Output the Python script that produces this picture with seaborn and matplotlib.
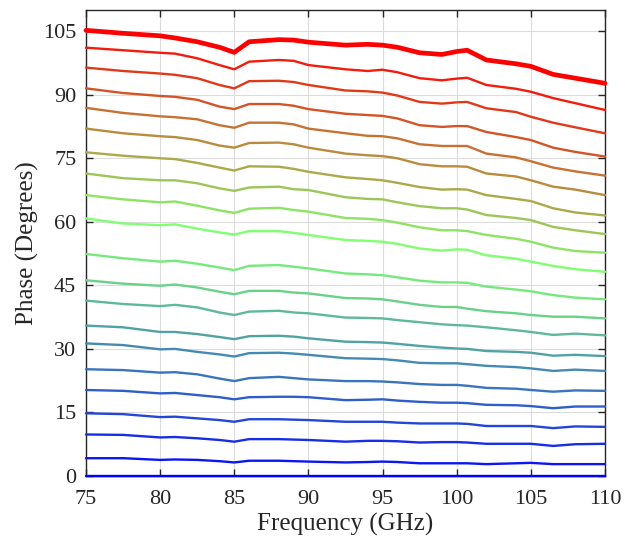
import numpy as np
import pandas as pd
import matplotlib
matplotlib.use('Agg')
import matplotlib.pyplot as plt
from matplotlib.colors import LinearSegmentedColormap
import seaborn as sns

# frequency points (GHz)
freq = [75, 77.5, 80, 81, 82.5, 84, 85, 86, 88, 89, 90, 92.5, 94, 95, 96,
        97.5, 99, 100, 100.7, 102, 104, 105, 106.5, 108, 110]

# phase states, top curve first (degrees)
s01 = [105.2, 104.5, 103.9, 103.4, 102.5, 101.2, 100.0, 102.5, 103.0, 102.9, 102.4, 101.7, 101.9,
       101.7, 101.2, 99.9, 99.5, 100.2, 100.5, 98.2, 97.3, 96.7, 94.8, 93.9, 92.7]
s02 = [101.1, 100.5, 99.9, 99.7, 98.6, 97.0, 96.0, 97.8, 98.2, 98.0, 97.0, 96.0, 95.6,
       95.9, 95.3, 93.9, 93.4, 93.8, 94.0, 92.3, 91.4, 90.7, 89.2, 88.0, 86.4]
s03 = [96.4, 95.6, 95.0, 94.7, 93.9, 92.3, 91.5, 93.2, 93.3, 93.0, 92.3, 91.0, 90.8,
       90.5, 89.8, 88.3, 87.9, 88.2, 88.3, 86.8, 85.9, 84.8, 83.4, 82.3, 80.9]
s04 = [91.5, 90.4, 89.7, 89.5, 88.8, 87.2, 86.6, 87.8, 87.8, 87.4, 86.6, 85.5, 85.2,
       85.0, 84.4, 82.8, 82.4, 82.6, 82.6, 81.2, 80.0, 79.3, 77.5, 76.5, 75.4]
s05 = [86.9, 85.7, 84.9, 84.7, 84.2, 82.8, 82.2, 83.4, 83.4, 83.0, 82.0, 80.9, 80.3,
       80.2, 79.7, 78.3, 77.9, 77.9, 77.9, 76.1, 75.2, 74.3, 72.8, 71.9, 70.9]
s06 = [82.0, 80.9, 80.2, 80.0, 79.3, 78.0, 77.5, 78.6, 78.7, 78.3, 77.5, 76.1, 75.7,
       75.5, 75.0, 73.6, 73.1, 73.1, 73.0, 71.4, 70.7, 69.8, 68.3, 67.6, 66.3]
s07 = [76.4, 75.6, 75.0, 74.8, 73.9, 72.8, 72.1, 73.1, 73.0, 72.5, 71.8, 70.5, 70.1,
       69.8, 69.2, 68.2, 67.6, 67.7, 67.6, 66.3, 65.4, 64.9, 63.2, 62.2, 61.5]
s08 = [71.4, 70.3, 69.8, 69.8, 69.1, 67.9, 67.3, 68.1, 68.3, 67.7, 67.5, 65.8, 65.4,
       65.3, 64.6, 63.7, 63.2, 63.2, 62.9, 61.6, 60.9, 60.4, 58.8, 58.0, 57.1]
s09 = [66.3, 65.3, 64.6, 64.8, 63.8, 62.7, 62.1, 63.1, 63.3, 62.8, 62.4, 60.9, 60.7,
       60.4, 59.8, 58.7, 58.0, 58.0, 57.8, 56.9, 56.0, 55.3, 53.9, 53.1, 52.7]
s10 = [60.8, 59.6, 59.2, 59.4, 58.4, 57.5, 57.0, 57.8, 57.8, 57.4, 56.9, 55.7, 55.5,
       55.3, 54.8, 53.7, 53.2, 53.5, 53.4, 52.1, 51.3, 50.6, 49.6, 48.8, 48.2]
s11 = [52.4, 51.4, 50.6, 50.8, 50.1, 49.2, 48.6, 49.6, 49.8, 49.4, 49.0, 47.8, 47.6,
       47.4, 46.9, 46.1, 45.7, 45.7, 45.6, 44.7, 44.0, 43.6, 42.7, 42.1, 41.7]
s12 = [46.2, 45.4, 44.9, 45.2, 44.5, 43.5, 42.9, 43.7, 43.7, 43.3, 43.1, 42.0, 41.9,
       41.7, 41.2, 40.4, 39.9, 39.9, 39.5, 38.9, 38.4, 38.0, 37.6, 37.6, 37.2]
s13 = [41.4, 40.6, 40.1, 40.4, 39.8, 38.6, 38.0, 38.8, 39.0, 38.6, 38.4, 37.4, 37.3,
       37.2, 36.8, 36.3, 35.8, 35.6, 35.5, 35.1, 34.4, 34.0, 33.3, 33.6, 33.2]
s14 = [35.5, 35.1, 34.0, 34.0, 33.5, 32.8, 32.3, 33.0, 33.1, 32.9, 32.5, 31.7, 31.6,
       31.5, 31.2, 30.7, 30.3, 30.1, 30.0, 29.5, 29.3, 29.1, 28.4, 28.6, 28.3]
s15 = [31.3, 30.9, 29.9, 30.0, 29.3, 28.7, 28.2, 29.0, 29.1, 28.9, 28.6, 27.8, 27.7,
       27.6, 27.3, 26.7, 26.6, 26.6, 26.4, 26.0, 25.7, 25.4, 24.8, 25.1, 24.8]
s16 = [25.2, 25.0, 24.4, 24.5, 24.0, 23.0, 22.4, 23.1, 23.4, 23.1, 22.8, 22.4, 22.4,
       22.3, 22.1, 21.7, 21.5, 21.5, 21.3, 20.8, 20.6, 20.3, 19.9, 20.2, 20.1]
s17 = [20.3, 20.1, 19.5, 19.6, 19.1, 18.6, 18.1, 18.6, 18.7, 18.7, 18.6, 17.9, 18.0,
       18.1, 17.8, 17.5, 17.3, 17.3, 17.2, 16.8, 16.7, 16.5, 16.0, 16.4, 16.4]
s18 = [14.8, 14.6, 13.9, 14.0, 13.6, 13.2, 12.8, 13.4, 13.4, 13.3, 13.2, 12.8, 12.8,
       12.8, 12.6, 12.4, 12.4, 12.4, 12.3, 11.8, 11.8, 11.8, 11.3, 11.7, 11.6]
s19 = [9.8, 9.7, 9.1, 9.2, 8.9, 8.5, 8.1, 8.7, 8.7, 8.6, 8.5, 8.1, 8.3,
       8.3, 8.2, 7.9, 8.0, 8.0, 7.9, 7.6, 7.6, 7.6, 7.1, 7.5, 7.6]
s20 = [4.2, 4.2, 3.8, 3.9, 3.8, 3.5, 3.2, 3.6, 3.6, 3.5, 3.4, 3.2, 3.3,
       3.4, 3.3, 3.0, 3.0, 3.0, 3.0, 2.8, 3.0, 3.1, 2.8, 2.8, 2.8]
s21 = [0.0] * len(freq)

series = [s21, s20, s19, s18, s17, s16, s15, s14, s13, s12, s11,
          s10, s09, s08, s07, s06, s05, s04, s03, s02, s01]

xticks = [75, 80, 85, 90, 95, 100, 105, 110]
yticks = [0, 15, 30, 45, 60, 75, 90, 105]

sns.set_theme(style="whitegrid")
plt.rcParams['font.family'] = ['Liberation Serif', 'DejaVu Serif']

cmap = LinearSegmentedColormap.from_list(
    'phase', [(0.0, '#0000ff'), (0.55, '#80ff70'), (1.0, '#ff0000')])

fig = plt.figure(figsize=(6.31, 5.43), dpi=100)
ax = fig.add_axes([0.1363, 0.1234, 0.8225, 0.8582])

n = len(series)
for i, s in enumerate(series):
    df = pd.DataFrame({'f': freq, 'p': s})
    lw = 3.4 if i == n - 1 else 1.7
    sns.lineplot(data=df, x='f', y='p', ax=ax, color=cmap(i / (n - 1)),
                 lw=lw, clip_on=False, zorder=3 + i)

ax.set_xlim(75, 110)
ax.set_ylim(0, 110)
ax.set_xticks(xticks)
ax.set_yticks(yticks)
ax.set_xlabel('Frequency (GHz)', fontsize=18, labelpad=3)
ax.set_ylabel('Phase (Degrees)', fontsize=18, labelpad=3)
ax.tick_params(axis='both', labelsize=16, direction='in', length=5,
               width=1, color='#262626', top=True, right=True,
               bottom=True, left=True)
ax.tick_params(axis='x', pad=10)
ax.tick_params(axis='y', pad=7)
ax.grid(True, color='#dcdcdc', lw=0.8)
ax.set_facecolor('white')
for sp in ax.spines.values():
    sp.set_visible(True)
    sp.set_color('#262626')
    sp.set_linewidth(1.0)

fig.savefig('out.png', dpi=100)
